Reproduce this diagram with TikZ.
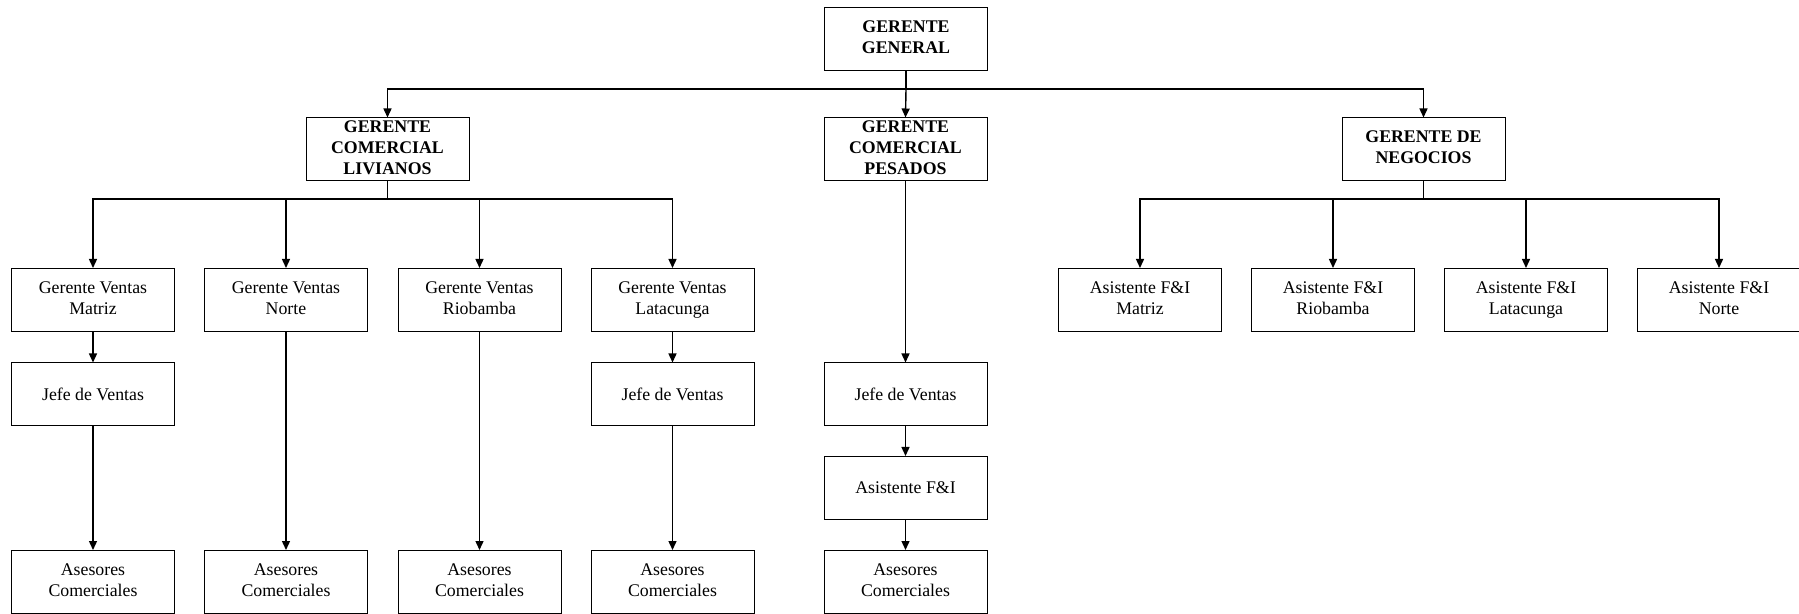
\documentclass[tikz,border=0pt]{standalone}
\usepackage{fontspec}
\setmainfont{Liberation Serif}
\usetikzlibrary{arrows.meta}
% struts that centre the capitals of every line block in its box
\newcommand\topstr{\rule{0pt}{8.1pt}}
\newcommand\botstr{\rule[-2.2pt]{0pt}{2.2pt}}
\begin{document}
\begin{tikzpicture}[x=0.5pt, y=-0.5pt,
  box/.style={draw, line width=0.5pt, minimum width=81.5pt, minimum height=31.5pt,
    inner sep=0pt, align=center, font=\fontsize{8.9}{10.5}\selectfont,
    execute at begin node=\topstr, execute at end node=\botstr},
  head/.style={box, font=\fontsize{8.9}{10.5}\selectfont\bfseries},
  link/.style={line width=0.7pt},
  arr/.style={link, -{Triangle[width=4pt, length=4.5pt]}}]
\useasboundingbox (0,0) rectangle (1799,614);

% top level
\node[head] (gg) at (906,39.5) {GERENTE\\GENERAL};

% second level
\node[head] (liv) at (387.5,149.5) {GERENTE\\COMERCIAL\\LIVIANOS};
\node[head] (pes) at (905.5,149.5) {GERENTE\\COMERCIAL\\PESADOS};
\node[head] (neg) at (1423.5,149.5) {GERENTE DE\\NEGOCIOS};

% light vehicles branch
\node[box] (gvm) at (93,300) {Gerente Ventas\\Matriz};
\node[box] (gvn) at (286,300) {Gerente Ventas\\Norte};
\node[box] (gvr) at (479.5,300) {Gerente Ventas\\Riobamba};
\node[box] (gvl) at (672.5,300) {Gerente Ventas\\Latacunga};
\node[box] (jvm) at (93,394.5) {Jefe de Ventas};
\node[box] (jvl) at (672.5,394.5) {Jefe de Ventas};
\node[box] (acm) at (93,582) {Asesores\\Comerciales};
\node[box] (acn) at (286,582) {Asesores\\Comerciales};
\node[box] (acr) at (479.5,582) {Asesores\\Comerciales};
\node[box] (acl) at (672.5,582) {Asesores\\Comerciales};

% heavy vehicles branch
\node[box] (jvp) at (905.5,394.5) {Jefe de Ventas};
\node[box] (afp) at (905.5,488) {Asistente F\&I};
\node[box] (acp) at (905.5,582) {Asesores\\Comerciales};

% business branch
\node[box] (afm) at (1140,300) {Asistente F\&I\\Matriz};
\node[box] (afr) at (1333,300) {Asistente F\&I\\Riobamba};
\node[box] (afl) at (1526,300) {Asistente F\&I\\Latacunga};
\node[box] (afn) at (1719,300) {Asistente F\&I\\Norte};

% bus coordinates
\coordinate (b0) at (906,89);
\coordinate (b1) at (387.5,199);
\coordinate (b2) at (1423.5,199);

% connectors from the general manager
\draw[link] (gg.south) -- (b0);
\draw[arr] (b0) -| (liv.north);
\draw[arr] (b0) -| (neg.north);
\draw[arr] (b0) -- (pes.north);

% light vehicles connectors
\draw[link] (liv.south) -- (b1);
\foreach \n in {gvm,gvn,gvr,gvl}{\draw[arr] (b1) -| (\n.north);}
\draw[arr] (gvm) -- (jvm);
\draw[arr] (jvm) -- (acm);
\draw[arr] (gvn) -- (acn);
\draw[arr] (gvr) -- (acr);
\draw[arr] (gvl) -- (jvl);
\draw[arr] (jvl) -- (acl);

% heavy vehicles connectors
\draw[arr] (pes) -- (jvp);
\draw[arr] (jvp) -- (afp);
\draw[arr] (afp) -- (acp);

% business connectors
\draw[link] (neg.south) -- (b2);
\foreach \n in {afm,afr,afl,afn}{\draw[arr] (b2) -| (\n.north);}
\end{tikzpicture}
\end{document}
